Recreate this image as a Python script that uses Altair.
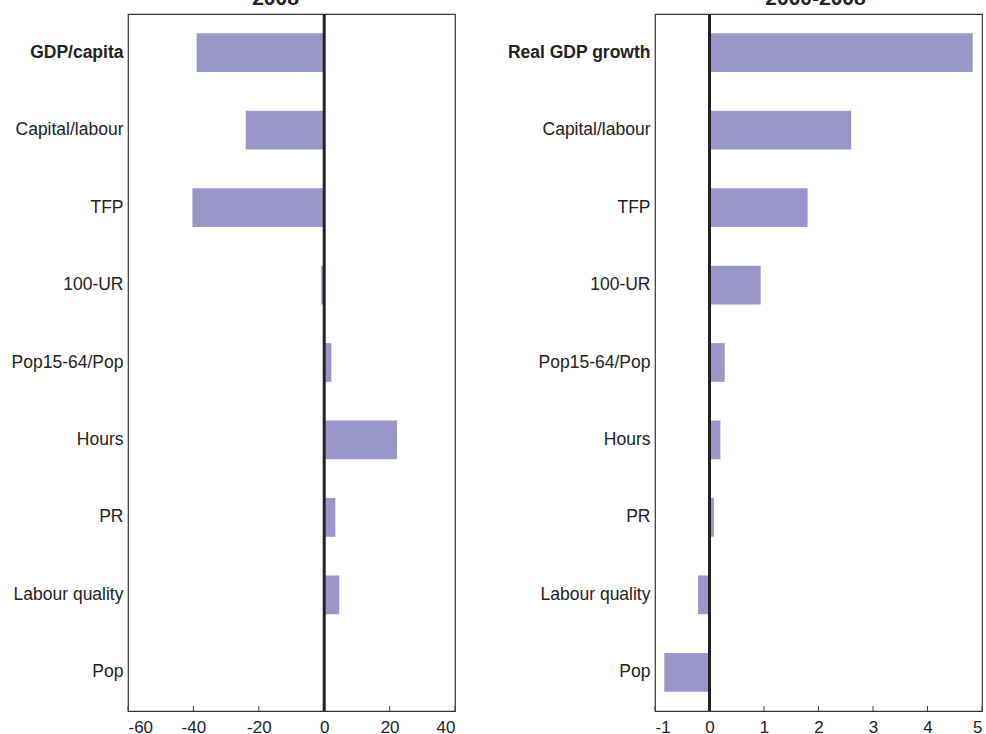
import altair as alt
import pandas as pd

# Decomposition of GDP per capita gaps (left) and growth contributions (right)
left_factors = ["GDP/capita", "Capital/labour", "TFP", "100-UR", "Pop15-64/Pop",
                "Hours", "PR", "Labour quality", "Pop"]
left_values = [-39.0, -24.0, -40.3, -0.9, 2.2, 22.3, 3.4, 4.6, 0.0]

right_factors = ["Real GDP growth", "Capital/labour", "TFP", "100-UR", "Pop15-64/Pop",
                 "Hours", "PR", "Labour quality", "Pop"]
right_values = [4.83, 2.6, 1.8, 0.94, 0.28, 0.2, 0.08, -0.21, -0.83]

left_ticks = [-60, -40, -20, 0, 20, 40]
right_ticks = [-1, 0, 1, 2, 3, 4, 5]

BAR = "#9A96C8"
INK = "#222222"
FONT = "Liberation Sans"
W, H = 327, 697


def panel(factors, values, ticks, domain, title, bold_label, title_dx):
    df = pd.DataFrame({"factor": factors, "value": values})
    tick_df = pd.DataFrame({"t": ticks})
    zero_df = pd.DataFrame({"z": [0]})

    xscale = alt.Scale(domain=domain, nice=False, zero=False)
    yscale = alt.Scale(domain=factors, paddingInner=0.5, paddingOuter=0.25)

    bars = alt.Chart(df).mark_bar(color=BAR).encode(
        x=alt.X("value:Q", scale=xscale, title=None,
                axis=alt.Axis(values=ticks, ticks=False, domain=False, grid=False,
                              labelExpr="'' + datum.value",
                              labelFontSize=17, labelColor=INK, labelFont=FONT,
                              labelPadding=8)),
        y=alt.Y("factor:N", scale=yscale, sort=factors, title=None,
                axis=alt.Axis(ticks=False, domain=False, labelFontSize=17.5,
                              labelColor=INK, labelFont=FONT, labelPadding=5,
                              labelLimit=300,
                              labelFontWeight=alt.expr(
                                  f"datum.value == '{bold_label}' ? 'bold' : 'normal'"))),
    )

    # inward tick marks along the bottom edge
    tick_marks = alt.Chart(tick_df).mark_rule(color="#444444", strokeWidth=1).encode(
        x=alt.X("t:Q", scale=xscale),
        y=alt.value(H - 5),
        y2=alt.value(H),
    )

    zero_line = alt.Chart(zero_df).mark_rule(color=INK, strokeWidth=3).encode(
        x=alt.X("z:Q", scale=xscale),
        y=alt.value(0),
        y2=alt.value(H),
    )

    return alt.layer(bars, tick_marks, zero_line).properties(
        width=W, height=H,
        title=alt.TitleParams(title, fontSize=21, fontWeight="bold", font=FONT,
                              color=INK, offset=4, dx=title_dx, anchor="middle"),
    )


left = panel(left_factors, left_values, left_ticks, [-60, 40], "2008", "GDP/capita", -16)
right = panel(right_factors, right_values, right_ticks, [-1, 5], "2000-2008",
              "Real GDP growth", -3)

chart = alt.hconcat(left, right, spacing=49).properties(
    padding={"left": 10, "top": -14, "right": 0, "bottom": 0},
    background="white",
).configure_view(stroke="#333333", strokeWidth=1.2)

chart.save("out.html", embed_options={"renderer": "svg", "actions": False})
